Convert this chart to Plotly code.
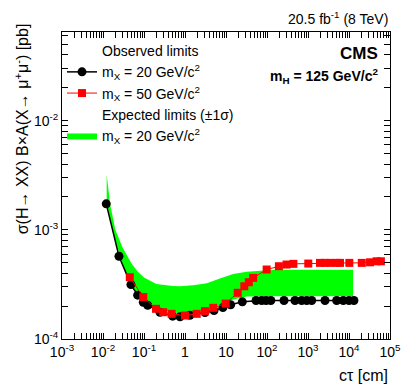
import plotly.graph_objects as go

# observed limits, m_X = 20 GeV
ct_obs20 = [0.012, 0.0245, 0.048, 0.07, 0.096, 0.123, 0.245, 0.5, 0.755, 1.32, 3.07,
            5.1, 8.4, 13, 25, 54, 74, 95, 124, 260, 482, 700, 930, 1230, 2600,
            5000, 7250, 10000, 13200]
obs20 = [1.73e-3, 5.73e-4, 3.15e-4, 2.52e-4, 2.17e-4, 2.04e-4, 1.76e-4, 1.62e-4, 1.60e-4,
         1.65e-4, 1.75e-4, 1.82e-4, 1.94e-4, 2.06e-4, 2.19e-4, 2.25e-4, 2.25e-4, 2.25e-4,
         2.25e-4, 2.25e-4, 2.25e-4, 2.25e-4, 2.25e-4, 2.25e-4, 2.25e-4, 2.25e-4, 2.25e-4,
         2.25e-4, 2.25e-4]

# observed limits, m_X = 50 GeV
ct_obs50 = [0.045, 0.096, 0.196, 0.295, 0.47, 1.0, 1.93, 3.07, 4.9, 9.8, 19.3, 28, 36, 46,
            98, 195, 300, 440, 1015, 1960, 2600, 3440, 5010, 6030, 10200, 20500, 32600,
            47000, 60000]
obs50 = [3.68e-4, 2.42e-4, 1.89e-4, 1.76e-4, 1.70e-4, 1.64e-4, 1.70e-4, 1.80e-4, 1.93e-4,
         2.11e-4, 2.65e-4, 3.04e-4, 3.31e-4, 3.63e-4, 4.33e-4, 4.64e-4, 4.81e-4, 4.88e-4,
         4.91e-4, 4.98e-4, 4.98e-4, 4.98e-4, 4.98e-4, 4.98e-4, 4.98e-4, 4.98e-4, 5.04e-4,
         5.15e-4, 5.15e-4]

# expected +-1 sigma band, m_X = 20 GeV
ct_exp = [0.0123, 0.015, 0.02, 0.03, 0.05, 0.07, 0.1, 0.2, 0.5, 0.755, 1.59, 3.4, 7.1,
          15, 32, 68, 150, 1000, 12600]
exp_lo = [1.8e-3, 1.25e-3, 8.0e-4, 4.9e-4, 3.0e-4, 2.6e-4, 2.3e-4, 1.95e-4, 1.75e-4,
          1.72e-4, 1.74e-4, 1.85e-4, 2.05e-4, 2.3e-4, 2.45e-4, 2.47e-4, 2.47e-4, 2.47e-4,
          2.47e-4]
exp_hi = [3.2e-3, 1.7e-3, 1.0e-3, 6.9e-4, 4.9e-4, 4.15e-4, 3.66e-4, 3.19e-4, 3.06e-4,
          3.04e-4, 3.1e-4, 3.24e-4, 3.59e-4, 3.93e-4, 4.13e-4, 4.22e-4, 4.3e-4, 4.3e-4,
          4.3e-4]

x_tickvals = [1e-3, 1e-2, 1e-1, 1, 10, 1e2, 1e3, 1e4, 1e5]
x_ticktext = ['10<sup>-3</sup>', '10<sup>-2</sup>', '10<sup>-1</sup>', '1', '10',
              '10<sup>2</sup>', '10<sup>3</sup>', '10<sup>4</sup>', '10<sup>5</sup>']
y_tickvals = [1e-4, 1e-3, 1e-2]
y_ticktext = ['10<sup>-4</sup>', '10<sup>-3</sup>', '10<sup>-2</sup>']

# unlabelled ticks at 2..9 of every decade
x_minor = [m * 10.0 ** e for e in range(-3, 5) for m in range(2, 10)]
y_minor = [m * 10.0 ** e for e in range(-4, -1) for m in range(2, 10)]

FONT = 'Liberation Sans, Arial, sans-serif'
GREEN = '#00ff00'

fig = go.Figure()

# header rows of the legend (no visible mark)
fig.add_trace(go.Scatter(
    x=[None], y=[None], mode='lines', name='Observed limits',
    line=dict(color='rgba(0,0,0,0)', width=0), legendrank=1
))
fig.add_trace(go.Scatter(
    x=[None], y=[None], mode='lines', name='Expected limits (\u00b11\u03c3)',
    line=dict(color='rgba(0,0,0,0)', width=0), legendrank=4
))

# band
fig.add_trace(go.Scatter(
    x=ct_exp, y=exp_lo, mode='lines', line=dict(width=0, color=GREEN),
    showlegend=False, hoverinfo='skip'
))
fig.add_trace(go.Scatter(
    x=ct_exp, y=exp_hi, mode='lines', line=dict(width=0, color=GREEN),
    fill='tonexty', fillcolor=GREEN, legendrank=5,
    name='m<sub>X</sub> = 20 GeV/c<sup>2</sup>'
))

fig.add_trace(go.Scatter(
    x=ct_obs20, y=obs20, mode='lines+markers', legendrank=2,
    name='m<sub>X</sub> = 20 GeV/c<sup>2</sup>',
    line=dict(color='black', width=1.5),
    marker=dict(symbol='circle', size=9, color='black')
))
fig.add_trace(go.Scatter(
    x=ct_obs50, y=obs50, mode='lines+markers', legendrank=3,
    name='m<sub>X</sub> = 50 GeV/c<sup>2</sup>',
    line=dict(color='red', width=1),
    marker=dict(symbol='square', size=8, color='red')
))

axis_common = dict(
    type='log', showgrid=False, zeroline=False, showline=True, linecolor='black',
    linewidth=1, mirror='ticks', ticks='inside', tickcolor='black', tickwidth=1,
    ticklen=6, automargin=False,
    tickfont=dict(family=FONT, size=14, color='black'),
)

fig.update_xaxes(range=[-3, 5], tickmode='array',
                 tickvals=x_tickvals + x_minor,
                 ticktext=x_ticktext + [''] * len(x_minor),
                 **axis_common)
fig.update_yaxes(range=[-4, -1.188], tickmode='array',
                 tickvals=y_tickvals + y_minor,
                 ticktext=y_ticktext + [''] * len(y_minor),
                 **axis_common)

fig.update_layout(
    width=407, height=391,
    margin=dict(l=62, r=17, t=32, b=52, autoexpand=False),
    paper_bgcolor='white', plot_bgcolor='white',
    font=dict(family=FONT, size=14, color='black'),
    showlegend=True,
    legend=dict(x=0.0, y=0.99, xanchor='left', yanchor='top',
                bgcolor='rgba(0,0,0,0)', font=dict(size=14, family=FONT),
                itemwidth=30, tracegroupgap=0, traceorder='normal'),
    annotations=[
        dict(text='20.5 fb<sup>-1</sup> (8 TeV)', x=1.0, y=1.01, xref='paper', yref='paper',
             xanchor='right', yanchor='bottom', showarrow=False, font=dict(size=14)),
        dict(text='<b>CMS</b>', x=0.97, y=0.93, xref='paper', yref='paper',
             xanchor='right', yanchor='middle', showarrow=False, font=dict(size=17)),
        dict(text='<b>m<sub>H</sub> = 125 GeV/c<sup>2</sup></b>', x=0.97, y=0.858,
             xref='paper', yref='paper', xanchor='right', yanchor='middle',
             showarrow=False, font=dict(size=14)),
        dict(text='c\u03c4 [cm]', x=1.0, y=-0.086, xref='paper', yref='paper',
             xanchor='right', yanchor='top', showarrow=False, font=dict(size=16)),
        dict(text='\u03c3(H\u2192 XX) B\u00d7A(X\u2192 \u03bc<sup>+</sup>\u03bc<sup>-</sup>) [pb]',
             x=-0.16, y=1.035, xref='paper', yref='paper', textangle=-90,
             xanchor='left', yanchor='top', showarrow=False, font=dict(size=16)),
    ],
)

fig.write_html('out.html', config={'displayModeBar': False},
               post_script="document.body.style.margin='0px';")
